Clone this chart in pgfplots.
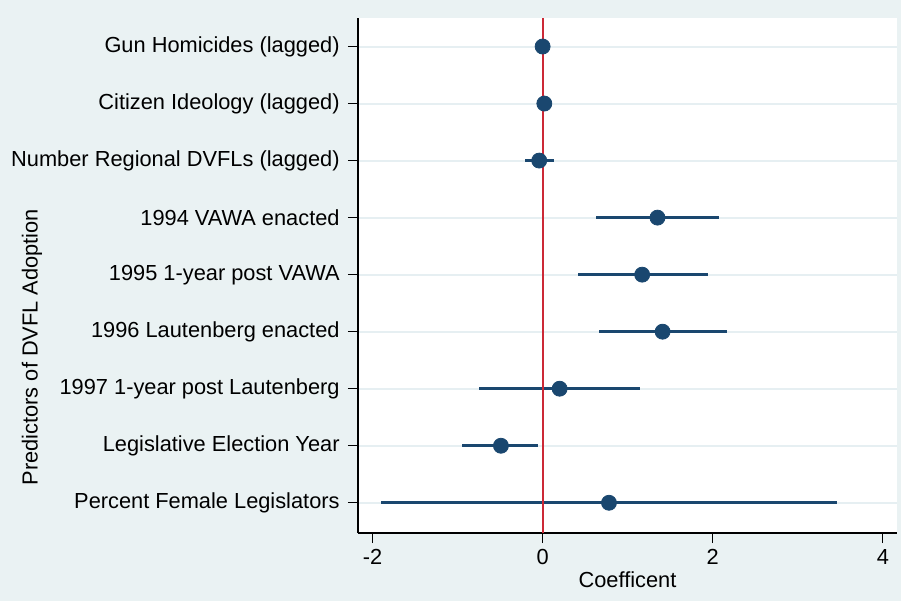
\documentclass[border=0pt]{standalone}
\usepackage{fontspec}
\setmainfont{Liberation Sans}
\usepackage{pgfplots}
\pgfplotsset{compat=1.18}
\usepackage{pgfplotstable}
\definecolor{stbg}{RGB}{234,242,243}
\definecolor{stgrid}{RGB}{230,239,242}
\definecolor{stnavy}{RGB}{26,71,111}
\definecolor{stred}{RGB}{204,41,54}

\pgfplotstableread{
y est lo hi
9 0.00 -0.01 0.01
8 0.02 0.00 0.04
7 -0.04 -0.21 0.13
6 1.35 0.63 2.07
5 1.17 0.41 1.94
4 1.41 0.66 2.17
3 0.20 -0.75 1.15
2 -0.49 -0.95 -0.05
1 0.78 -1.90 3.46
}\coefs

\pgfplotstableread{
x y
0 0.47
0 9.5
}\zeroline

\begin{document}
\begin{tikzpicture}
\fill[stbg] (-179pt,-34pt) rectangle (271.5pt,266.5pt);
\useasboundingbox (-179pt,-34pt) rectangle (271.5pt,266.5pt);
\begin{axis}[
  scale only axis, width=269.5pt, height=257.5pt,
  xmin=-2.17, xmax=4.165, ymin=0.47, ymax=9.5,
  axis x line*=bottom, axis y line*=left,
  axis background/.style={fill=white},
  tick align=outside, major tick length=5pt,
  xtick={-2,0,2,4}, xticklabels={-2,0,2,4},
  ytick={1,...,9},
  yticklabels={Percent Female Legislators, Legislative Election Year, 1997 1-year post Lautenberg, 1996 Lautenberg enacted, 1995 1-year post VAWA, 1994 VAWA enacted, Number Regional DVFLs (lagged), Citizen Ideology (lagged), Gun Homicides (lagged)},
  ymajorgrids, grid style={stgrid, line width=1pt},
  tick style={black, line width=0.5pt},
  axis line style={black, line width=0.6pt},
  ticklabel style={font=\fontsize{10.9}{12.5}\selectfont},
  yticklabel style={inner sep=4pt},
  xticklabel style={inner sep=3pt},
  xlabel={Coefficent},
  ylabel={Predictors of DVFL Adoption},
  label style={font=\fontsize{10.9}{12.5}\selectfont},
  x label style={at={(axis description cs:0.5,-0.0913)}, anchor=center},
  y label style={at={(axis description cs:-0.6048,0.361)}, anchor=center},
  clip=false,
]
\addplot[stnavy, only marks, mark=none,
  error bars/.cd, x dir=both, x explicit, error mark=none,
  error bar style={draw=stnavy, line width=1.5pt, solid}]
  table[x=est, y=y,
    x error plus expr=\thisrow{hi}-\thisrow{est},
    x error minus expr=\thisrow{est}-\thisrow{lo}] {\coefs};
\addplot[stred, line width=1pt, no marks] table[x=x, y=y] {\zeroline};
\addplot[only marks, mark=*, mark size=3.75pt, mark options={fill=stnavy, draw=stnavy}]
  table[x=est, y=y] {\coefs};
\end{axis}
\end{tikzpicture}
\end{document}
